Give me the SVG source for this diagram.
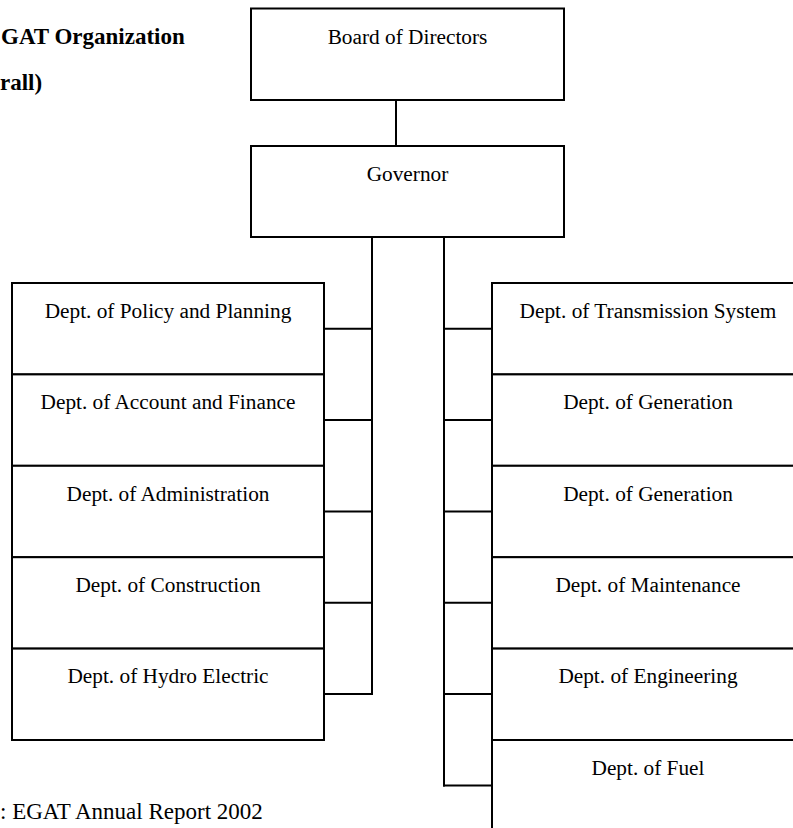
<svg xmlns="http://www.w3.org/2000/svg" width="793" height="828" viewBox="0 0 793 828" font-family="Liberation Serif, Times New Roman, Times, DejaVu Serif, serif">
<style>
.box{fill:#fff;stroke:#000;stroke-width:2}
.ln{stroke:#000;stroke-width:2;fill:none}
.lbl{font-size:21.3px;fill:#000;text-anchor:middle}
.ttl{font-size:23px;font-weight:bold;fill:#000}
.src{font-size:23px;fill:#000}
</style>
<rect width="793" height="828" fill="#fff"/>
<text class="ttl" x="1" y="43.5" font-family="Liberation Serif">GAT Organization</text>
<text class="ttl" x="0" y="89.5" font-family="Liberation Serif">rall)</text>
<text class="src" x="0" y="819" font-family="Liberation Serif">: EGAT Annual Report 2002</text>

<g id="connectors">
<line class="ln" x1="396" y1="100" x2="396" y2="146"/>
<line class="ln" x1="372" y1="237" x2="372" y2="695"/>
<line class="ln" x1="444" y1="237" x2="444" y2="786.5"/>
<line class="ln" x1="324" y1="328.7" x2="373" y2="328.7"/>
<line class="ln" x1="324" y1="420.1" x2="373" y2="420.1"/>
<line class="ln" x1="324" y1="511.4" x2="373" y2="511.4"/>
<line class="ln" x1="324" y1="602.7" x2="373" y2="602.7"/>
<line class="ln" x1="324" y1="694.1" x2="373" y2="694.1"/>
<line class="ln" x1="443" y1="328.7" x2="492" y2="328.7"/>
<line class="ln" x1="443" y1="420.1" x2="492" y2="420.1"/>
<line class="ln" x1="443" y1="511.4" x2="492" y2="511.4"/>
<line class="ln" x1="443" y1="602.7" x2="492" y2="602.7"/>
<line class="ln" x1="443" y1="694.1" x2="492" y2="694.1"/>
<line class="ln" x1="443" y1="785.5" x2="492" y2="785.5"/>
</g>

<g id="board"><rect class="box" x="251" y="8.5" width="313" height="91.5"/><text class="lbl" x="407.5" y="43.5">Board of Directors</text></g>
<g id="governor"><rect class="box" x="251" y="146" width="313" height="91"/><text class="lbl" x="407.5" y="180.5">Governor</text></g>

<g id="policy"><rect class="box" x="12" y="283" width="312" height="91.4"/><text class="lbl" x="168" y="317.7">Dept. of Policy and Planning</text></g>
<g id="account"><rect class="box" x="12" y="374.4" width="312" height="91.4"/><text class="lbl" x="168" y="409.1">Dept. of Account and Finance</text></g>
<g id="administration"><rect class="box" x="12" y="465.8" width="312" height="91.4"/><text class="lbl" x="168" y="500.5">Dept. of Administration</text></g>
<g id="construction"><rect class="box" x="12" y="557.2" width="312" height="91.4"/><text class="lbl" x="168" y="591.9">Dept. of Construction</text></g>
<g id="hydro"><rect class="box" x="12" y="648.6" width="312" height="91.4"/><text class="lbl" x="168" y="683.3">Dept. of Hydro Electric</text></g>

<g id="transmission"><rect class="box" x="492" y="283" width="312" height="91.4"/><text class="lbl" x="648" y="317.7">Dept. of Transmission System</text></g>
<g id="generation1"><rect class="box" x="492" y="374.4" width="312" height="91.4"/><text class="lbl" x="648" y="409.1">Dept. of Generation</text></g>
<g id="generation2"><rect class="box" x="492" y="465.8" width="312" height="91.4"/><text class="lbl" x="648" y="500.5">Dept. of Generation</text></g>
<g id="maintenance"><rect class="box" x="492" y="557.2" width="312" height="91.4"/><text class="lbl" x="648" y="591.9">Dept. of Maintenance</text></g>
<g id="engineering"><rect class="box" x="492" y="648.6" width="312" height="91.4"/><text class="lbl" x="648" y="683.3">Dept. of Engineering</text></g>
<g id="fuel"><rect class="box" x="492" y="740" width="312" height="91.4"/><text class="lbl" x="648" y="774.7">Dept. of Fuel</text></g>
</svg>
